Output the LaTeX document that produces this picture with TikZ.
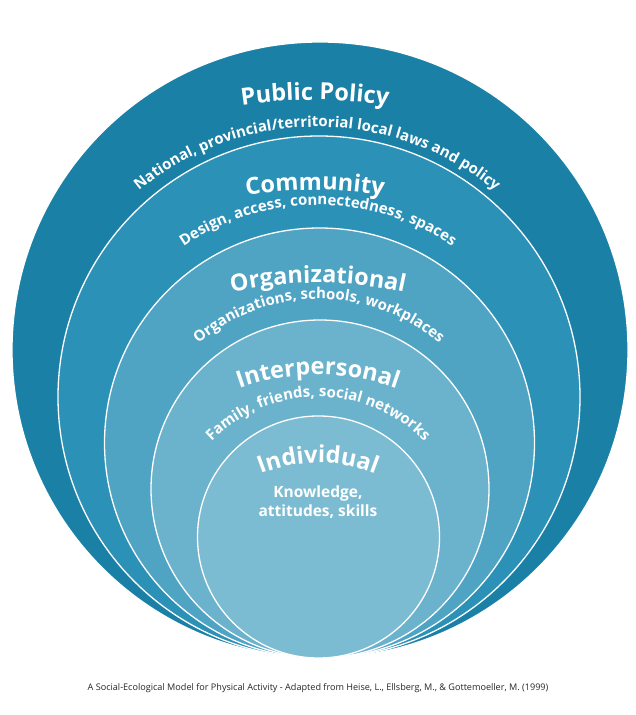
\documentclass[tikz,border=0pt]{standalone}
\usepackage{fontspec}
\setmainfont{Open Sans}
\usetikzlibrary{decorations.text}
\definecolor{c1}{HTML}{1B80A6}
\definecolor{c2}{HTML}{2C91B6}
\definecolor{c3}{HTML}{4FA3C3}
\definecolor{c4}{HTML}{6BB3CD}
\definecolor{c5}{HTML}{7BBCD2}
\newcommand{\ttl}{\color{white}\bfseries\fontsize{23.5}{24}\selectfont}
\newcommand{\sub}{\color{white}\bfseries\fontsize{15}{16}\selectfont}
\tikzset{
  ring/.style={draw=white, line width=1.3pt, circle, inner sep=0},
}
\newcommand{\arctxt}[4]{% center, radius, fmt, text
  \path[decorate, decoration={text along path, text format delimiters={|}{|}, text align=center, text={|#3|#4}}]
    (#1) ++(170:#2) arc[start angle=170, end angle=10, radius=#2];}
\begin{document}
\begin{tikzpicture}[x=1pt,y=1pt]
\useasboundingbox (0,0) rectangle (636,715);
\fill[white] (0,0) rectangle (636,715);
\node[ring, fill=c1, minimum size=616pt] (pp) at (320,365) {};
\node[ring, fill=c2, minimum size=522pt] (co) at (319,318) {};
\node[ring, fill=c3, minimum size=430pt] (or) at (319.5,272) {};
\node[ring, fill=c4, minimum size=338pt] (ip) at (320,226) {};
\node[ring, fill=c5, minimum size=242pt] (in) at (318.5,178) {};
\coordinate (a1) at (315,115);
\coordinate (a2) at (317,308);
\coordinate (a3) at (315,125);
\coordinate (a4) at (318,270);
\coordinate (a5) at (318,32);
\coordinate (a6) at (319,231);
\coordinate (a7) at (318,105);
\coordinate (a8) at (318,168);
\coordinate (a9) at (318,96);
\arctxt{a1}{500}{\ttl}{Public Policy}
\arctxt{a2}{280}{\sub}{National, provincial/territorial local laws and policy}
\arctxt{a3}{400}{\ttl}{Community}
\arctxt{a4}{240}{\sub}{Design, access, connectedness, spaces}
\arctxt{a5}{400}{\ttl}{Organizational}
\arctxt{a6}{185}{\sub}{Organizations, schools, workplaces}
\arctxt{a7}{235}{\ttl}{Interpersonal}
\arctxt{a8}{150}{\sub}{Family, friends, social networks}
\arctxt{a9}{156}{\ttl}{Individual}
\node[text=white, font=\bfseries\fontsize{15.5}{19}\selectfont, align=center] (k) at (318,213) {Knowledge,\\attitudes, skills};
\node[font=\fontsize{9.1}{10}\selectfont, text=black!85] (cap) at (318,27) {A Social-Ecological Model for Physical Activity - Adapted from Heise, L., Ellsberg, M., \& Gottemoeller, M. (1999)};
\end{tikzpicture}
\end{document}
